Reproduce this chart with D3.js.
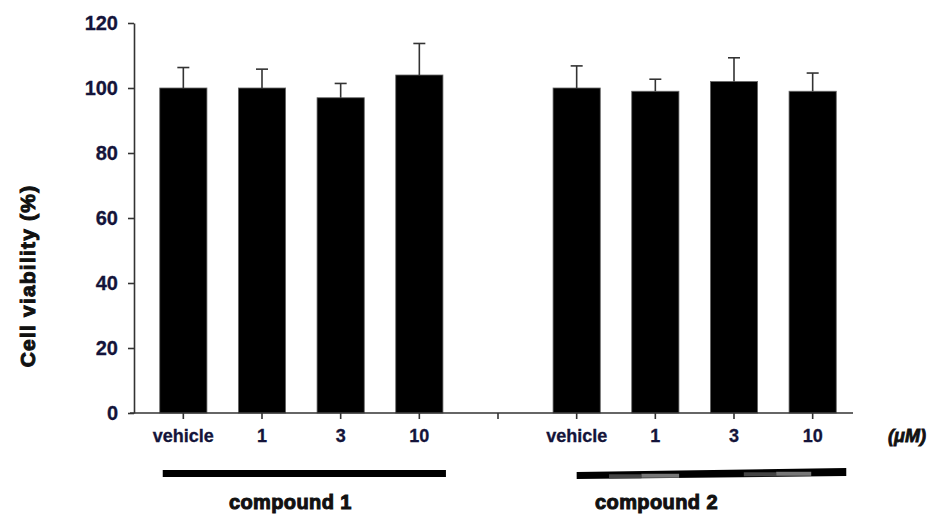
<!DOCTYPE html>
<html>
<head>
<meta charset="utf-8">
<script src="https://cdn.jsdelivr.net/npm/d3@7"></script>
<style>
  body { margin: 0; background: #fff; }
  text { font-family: "Liberation Sans", Arial, sans-serif; }
</style>
</head>
<body>
<script>
// data
var slots = ["c1-vehicle","c1-1","c1-3","c1-10","gap","c2-vehicle","c2-1","c2-3","c2-10"];
var tickLabels = ["vehicle","1","3","10","","vehicle","1","3","10"];
var values = [100, 100, 97, 104, null, 100, 99, 102, 99];
var errors = [6.3, 5.8, 4.4, 9.7, null, 6.8, 3.7, 7.3, 5.6];
var yTicks = [0, 20, 40, 60, 80, 100, 120];
var groups = ["compound 1", "compound 2"];

var W = 934, H = 516;
var svg = d3.select("body").append("svg").attr("width", W).attr("height", H);

var x = d3.scaleBand().domain(slots).range([144, 852]).paddingInner(0.4).paddingOuter(0.2);
var y = d3.scaleLinear().domain([0, 120]).range([413, 23]);

var data = slots.map(function(s, i){ return {slot: s, v: values[i], e: errors[i]}; })
                .filter(function(d){ return d.v != null; });

// bars
svg.selectAll("rect.bar")
      .data(data)
      .enter().append("rect")
            .attr("class", "bar")
            .attr("x", function(d){ return x(d.slot); })
            .attr("width", x.bandwidth())
            .attr("y", function(d){ return y(d.v); })
            .attr("height", function(d){ return y(0) - y(d.v); })
            .attr("fill", "#000")
            .attr("stroke", "#666")
            .attr("stroke-width", 0.8);

// error bars (upper only)
var eb = svg.selectAll("g.err").data(data).enter().append("g").attr("class", "err")
      .attr("stroke", "#333").attr("stroke-width", 1.6);
eb.append("line")
      .attr("x1", function(d){ return x(d.slot) + x.bandwidth()/2; })
      .attr("x2", function(d){ return x(d.slot) + x.bandwidth()/2; })
      .attr("y1", function(d){ return y(d.v); })
      .attr("y2", function(d){ return y(d.v + d.e); });
eb.append("line")
      .attr("x1", function(d){ return x(d.slot) + x.bandwidth()/2 - 6; })
      .attr("x2", function(d){ return x(d.slot) + x.bandwidth()/2 + 6; })
      .attr("y1", function(d){ return y(d.v + d.e); })
      .attr("y2", function(d){ return y(d.v + d.e); });

// y axis
var yAxis = svg.append("g").attr("transform", "translate(134,0)")
      .call(d3.axisLeft(y).tickValues(yTicks).tickSize(6).tickPadding(10).tickSizeOuter(0));
yAxis.select(".domain").attr("stroke", "#333").attr("stroke-width", 1.6);
yAxis.selectAll(".tick line").attr("stroke", "#333").attr("stroke-width", 1.6);
yAxis.selectAll(".tick text")
      .attr("font-size", 20).attr("font-weight", "bold").attr("fill", "#14143a")
      .attr("stroke", "#14143a").attr("stroke-width", 0.3)
      .attr("font-family", "Liberation Sans, Arial, sans-serif");

// x axis
var xAxis = svg.append("g").attr("transform", "translate(0,413)")
      .call(d3.axisBottom(x).tickFormat(function(d, i){ return tickLabels[i]; })
              .tickSize(6).tickPadding(10).tickSizeOuter(0));
xAxis.select(".domain").attr("d", "M130,0H853").attr("stroke", "#333").attr("stroke-width", 1.6);
xAxis.selectAll(".tick line").attr("stroke", "#333").attr("stroke-width", 1.6);
xAxis.selectAll(".tick text")
      .attr("font-size", 18).attr("font-weight", "bold").attr("fill", "#14143a")
      .attr("stroke", "#14143a").attr("stroke-width", 0.3)
      .attr("font-family", "Liberation Sans, Arial, sans-serif");

// unit
svg.append("text").text("(μM)")
      .attr("x", 907).attr("y", 442)
      .attr("text-anchor", "middle")
      .attr("font-size", 18).attr("font-weight", "bold").attr("font-style", "italic")
      .attr("fill", "#111").attr("stroke", "#111").attr("stroke-width", 0.8);

// y title
svg.append("text").text("Cell viability  (%)")
      .attr("transform", "translate(35,276) rotate(-90)")
      .attr("text-anchor", "middle")
      .attr("font-size", 21).attr("font-weight", "bold").attr("letter-spacing", 1.2)
      .attr("fill", "#111").attr("stroke", "#111").attr("stroke-width", 1);

// group bars
var g1x0 = x("c1-vehicle") + 3, g1x1 = x("c1-10") + x.bandwidth() + 3;
svg.append("rect")
      .attr("x", g1x0).attr("y", 470).attr("width", g1x1 - g1x0).attr("height", 7)
      .attr("fill", "#000");

var g2x0 = x("c2-vehicle") + x.bandwidth()/2, g2x1 = x("c2-10") + x.bandwidth() + 10;
svg.append("polygon")
      .attr("points", [[g2x0,472],[g2x1,468],[g2x1,476],[g2x0,479]].map(function(p){ return p.join(","); }).join(" "))
      .attr("fill", "#000");
// faint grey steps in the slanted line
var steps = [[0.12, 0.24, "#444"], [0.24, 0.38, "#777"], [0.62, 0.74, "#444"], [0.74, 0.87, "#777"]];
svg.selectAll("rect.step").data(steps).enter().append("rect")
      .attr("class", "step")
      .attr("x", function(d){ return g2x0 + d[0]*(g2x1 - g2x0); })
      .attr("width", function(d){ return (d[1]-d[0])*(g2x1 - g2x0); })
      .attr("y", function(d){ return 475 - 4*(d[0]+d[1])/2; })
      .attr("height", 4)
      .attr("fill", function(d){ return d[2]; });

svg.selectAll("text.group").data(groups).enter().append("text")
      .attr("class", "group")
      .text(function(d){ return d; })
      .attr("x", function(d, i){ return i === 0 ? (g1x0 + g1x1)/2 - 14 : (g2x0 + g2x1)/2 - 55; })
      .attr("y", 509)
      .attr("text-anchor", "middle")
      .attr("font-size", 20).attr("font-weight", "bold").attr("letter-spacing", 0.4)
      .attr("fill", "#111").attr("stroke", "#111").attr("stroke-width", 1);
</script>
</body>
</html>
